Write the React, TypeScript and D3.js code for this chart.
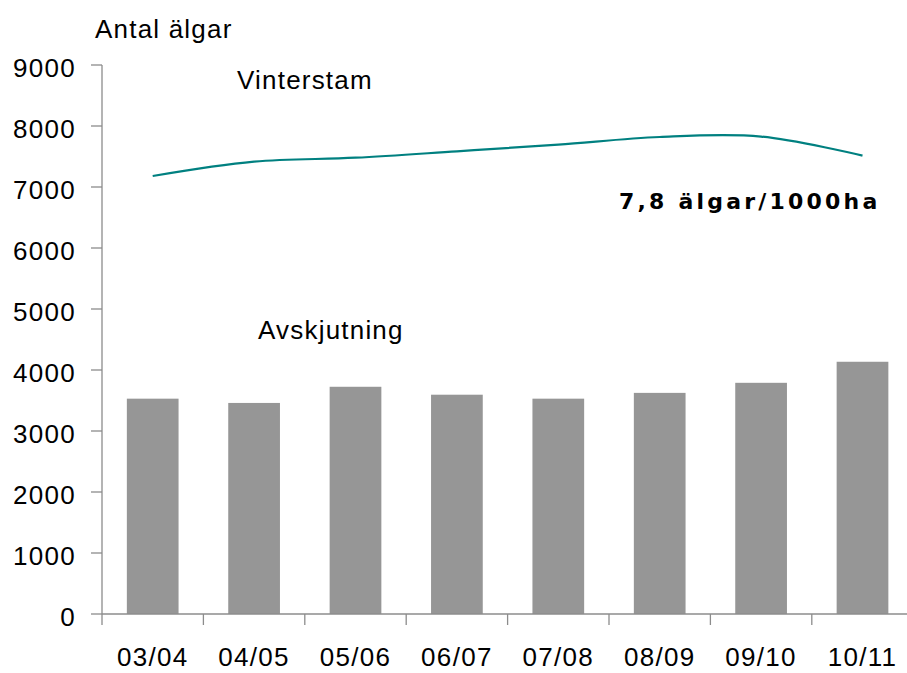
import React, { useEffect, useRef } from "react";
import * as d3 from "d3";

// Säsonger (jaktår)
const seasons = ["03/04", "04/05", "05/06", "06/07", "07/08", "08/09", "09/10", "10/11"];
// Avskjutning per säsong
const harvest = [3530, 3460, 3725, 3595, 3530, 3625, 3790, 4135];
// Vinterstam per säsong
const winterStock = [7180, 7415, 7480, 7585, 7695, 7820, 7826, 7515];
const yTicks = [0, 1000, 2000, 3000, 4000, 5000, 6000, 7000, 8000, 9000];

const width = 907;
const height = 673;
const margin = { top: 65, right: 0, bottom: 59, left: 102 };
const font = "'Liberation Sans', Arial, sans-serif";

const App = () => {
  const ref = useRef<SVGSVGElement>(null);

  useEffect(() => {
    const svg = d3.select(ref.current);
    svg.selectAll("*").remove();

    const bandW = 101.4;
    const x = d3.scaleBand()
      .domain(seasons)
      .range([margin.left, margin.left + bandW * seasons.length]);

    const y = d3.scaleLinear()
      .domain([0, 9000])
      .range([height - margin.bottom, margin.top]);

    const axisColor = "#8c8c8c";

    // bars
    const barW = x.bandwidth() * 0.51;
    svg.append("g")
      .selectAll("rect")
      .data(seasons)
      .join("rect")
      .attr("x", (d) => x(d)! + (x.bandwidth() - barW) / 2)
      .attr("y", (d, i) => y(harvest[i]))
      .attr("width", barW)
      .attr("height", (d, i) => y(0) - y(harvest[i]))
      .attr("fill", "#969696");

    // y axis
    const yAxis = svg.append("g");
    yAxis.append("line")
      .attr("x1", margin.left).attr("x2", margin.left)
      .attr("y1", y(9000)).attr("y2", y(0))
      .attr("stroke", axisColor).attr("stroke-width", 1.3);
    yAxis.selectAll(".tick")
      .data(yTicks)
      .join("line")
      .attr("x1", margin.left - 11).attr("x2", margin.left)
      .attr("y1", (d) => y(d)).attr("y2", (d) => y(d))
      .attr("stroke", axisColor).attr("stroke-width", 1.3);
    yAxis.selectAll("text")
      .data(yTicks)
      .join("text")
      .attr("x", 76)
      .attr("y", (d) => y(d) + 12)
      .attr("text-anchor", "end")
      .attr("font-family", font)
      .attr("font-size", 26)
      .attr("letter-spacing", 1.3)
      .attr("fill", "#000")
      .text((d) => d);

    // x axis
    const xAxis = svg.append("g");
    xAxis.append("line")
      .attr("x1", margin.left).attr("x2", width)
      .attr("y1", y(0)).attr("y2", y(0))
      .attr("stroke", axisColor).attr("stroke-width", 1.3);
    xAxis.selectAll(".tick")
      .data(seasons)
      .join("line")
      .attr("x1", (d) => x(d)!).attr("x2", (d) => x(d)!)
      .attr("y1", y(0)).attr("y2", y(0) + 11)
      .attr("stroke", axisColor).attr("stroke-width", 1.3);
    xAxis.selectAll("text")
      .data(seasons)
      .join("text")
      .attr("x", (d) => x(d)! + x.bandwidth() / 2)
      .attr("y", 666)
      .attr("text-anchor", "middle")
      .attr("font-family", font)
      .attr("font-size", 26)
      .attr("letter-spacing", 1.3)
      .text((d) => d);

    // Vinterstam line
    const line = d3.line<number>()
      .x((d, i) => x(seasons[i])! + x.bandwidth() / 2)
      .y((d) => y(d))
      .curve(d3.curveCardinal.tension(0));
    svg.append("path")
      .datum(winterStock)
      .attr("d", line)
      .attr("fill", "none")
      .attr("stroke", "#008080")
      .attr("stroke-width", 2.2);

    // labels
    const label = (tx: number, ty: number, s: string) =>
      svg.append("text")
        .attr("x", tx).attr("y", ty)
        .attr("font-family", font)
        .attr("font-size", 26)
        .attr("letter-spacing", 1.2)
        .text(s);
    label(95, 38, "Antal älgar");
    label(237, 89, "Vinterstam");
    label(258, 339, "Avskjutning");

    svg.append("text")
      .attr("x", 619).attr("y", 209)
      .attr("font-family", "'DejaVu Sans', Verdana, sans-serif")
      .attr("font-weight", "bold")
      .attr("font-size", 22)
      .attr("letter-spacing", 3.2)
      .text("7,8 älgar/1000ha");
  });

  return (
    <svg
      ref={ref}
      width={width}
      height={height}
      style={{ position: "absolute", left: 0, top: 0, background: "#fff" }}
    />
  );
};

export default App;
